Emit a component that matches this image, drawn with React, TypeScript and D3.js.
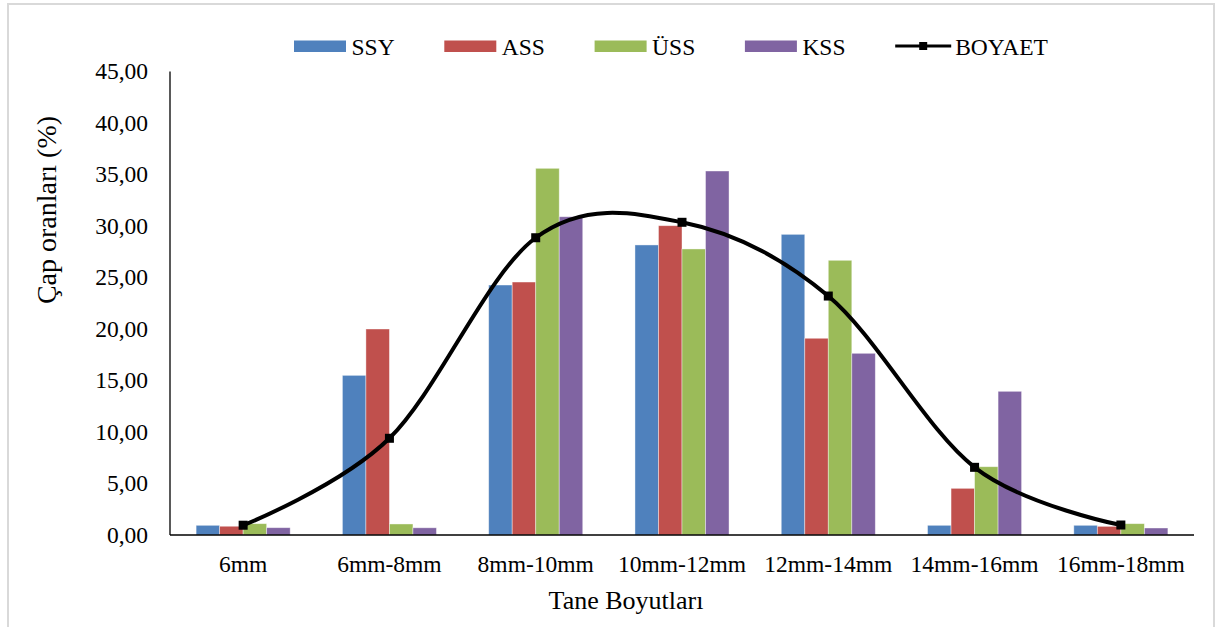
import React from "react";
import * as d3 from "d3";

// Particle size classes and the share (%) of each diameter class per series
const categories = ["6mm", "6mm-8mm", "8mm-10mm", "10mm-12mm", "12mm-14mm", "14mm-16mm", "16mm-18mm"];
const ssy = [0.94, 15.5, 24.27, 28.16, 29.19, 0.94, 0.94];
const ass = [0.85, 20.0, 24.56, 30.03, 19.1, 4.53, 0.84];
const uss = [1.1, 1.07, 35.6, 27.77, 26.67, 6.63, 1.1];
const kss = [0.71, 0.7, 30.9, 35.34, 17.64, 13.95, 0.68];
const boyaet = [0.95, 9.39, 28.86, 30.36, 23.2, 6.57, 0.97];
const yTicks = [0, 5, 10, 15, 20, 25, 30, 35, 40, 45];

const barSeries = [
  { name: "SSY", values: ssy, color: "#4F81BD" },
  { name: "ASS", values: ass, color: "#C0504D" },
  { name: "ÜSS", values: uss, color: "#9BBB59" },
  { name: "KSS", values: kss, color: "#8064A2" },
];

const W = 1216;
const H = 627;
const left = 170;
const right = 1194;
const top = 71.5;
const bottom = 535;
const font = "'Liberation Serif', 'Times New Roman', serif";
const fs = 23.5;

export default function App() {
  const x = d3
    .scaleBand<string>()
    .domain(categories)
    .range([left, right])
    .paddingInner(0.357)
    .paddingOuter(0.1785);
  const xs = d3
    .scaleBand<string>()
    .domain(barSeries.map((s) => s.name))
    .range([0, x.bandwidth()]);
  const y = d3.scaleLinear().domain([0, 45]).range([bottom, top]);
  const fmt = (v: number) => v.toFixed(2).replace(".", ",");

  const line = d3
    .line<number>()
    .x((_, i) => (x(categories[i]) as number) + x.bandwidth() / 2)
    .y((v) => y(v))
    .curve(d3.curveCardinal.tension(0));

  const legendItems = [...barSeries.map((s) => ({ name: s.name, color: s.color, line: false })), { name: "BOYAET", color: "#000", line: true }];

  return (
    <svg
      width={W}
      height={H}
      style={{ position: "absolute", left: 0, top: 0, background: "#fff" }}
      fontFamily={font}
    >
      <rect x={8} y={4} width={1206} height={640} fill="#fff" stroke="#D9D9D9" strokeWidth={2} />

      {/* y tick labels */}
      {yTicks.map((t) => (
        <text key={t} x={148} y={y(t)} dy="0.34em" textAnchor="end" fontSize={fs} fill="#000">
          {fmt(t)}
        </text>
      ))}

      {/* bars */}
      {barSeries.map((s) =>
        s.values.map((v, i) => (
          <rect
            key={s.name + i}
            x={(x(categories[i]) as number) + (xs(s.name) as number)}
            y={y(v)}
            width={xs.bandwidth()}
            height={bottom - y(v)}
            fill={s.color}
            stroke="#ffffff"
            strokeOpacity={0.5}
            strokeWidth={0.8}
          />
        ))
      )}

      {/* axes */}
      <line x1={left} x2={left} y1={top} y2={bottom} stroke="#000" strokeWidth={1.3} />
      <line x1={left} x2={right} y1={bottom} y2={bottom} stroke="#000" strokeWidth={1.3} />

      {/* BOYAET smoothed line */}
      <path d={line(boyaet) || ""} fill="none" stroke="#000" strokeWidth={4} />
      {boyaet.map((v, i) => (
        <rect
          key={"m" + i}
          x={(x(categories[i]) as number) + x.bandwidth() / 2 - 4.5}
          y={y(v) - 4.5}
          width={9}
          height={9}
          fill="#000"
        />
      ))}

      {/* category labels */}
      {categories.map((c) => (
        <text key={c} x={(x(c) as number) + x.bandwidth() / 2} y={572} textAnchor="middle" fontSize={fs} fill="#000">
          {c}
        </text>
      ))}

      {/* axis titles */}
      <text x={626} y={609} textAnchor="middle" fontSize={26} fill="#000">
        Tane Boyutları
      </text>
      <text
        transform={`translate(56, 210) rotate(-90)`}
        textAnchor="middle"
        fontSize={28}
        fill="#000"
      >
        Çap oranları (%)
      </text>

      {/* legend */}
      {legendItems.map((it, i) => {
        const lx = 294 + i * 150.3;
        return (
          <g key={it.name}>
            {it.line ? (
              <>
                <line x1={lx} x2={lx + 56} y1={46} y2={46} stroke="#000" strokeWidth={3} />
                <rect x={lx + 28 - 4} y={42} width={8} height={8} fill="#000" />
              </>
            ) : (
              <rect x={lx} y={40.5} width={52} height={11.5} fill={it.color} />
            )}
            <text x={lx + (it.line ? 60 : 57.5)} y={54.5} fontSize={fs} fill="#000">
              {it.name}
            </text>
          </g>
        );
      })}
    </svg>
  );
}
